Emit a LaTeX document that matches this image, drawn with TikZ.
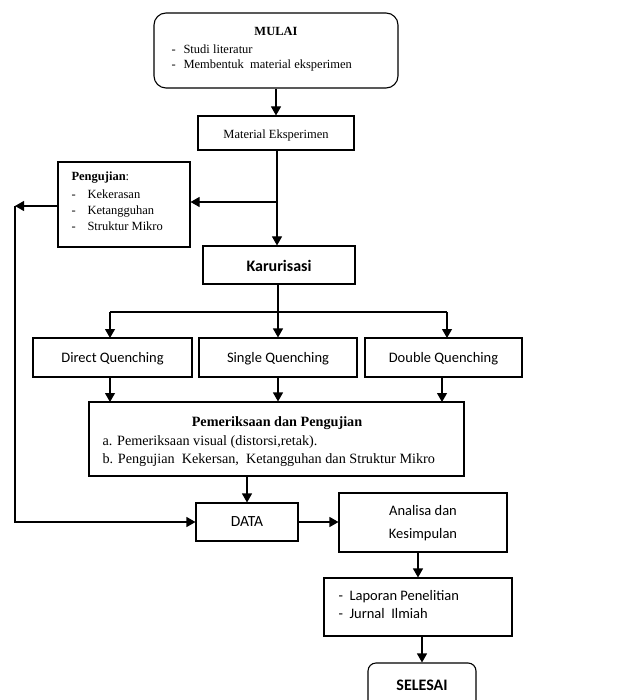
\documentclass[tikz,border=0pt]{standalone}
\usepackage{fontspec}
\setmainfont{Liberation Serif}
\newfontfamily\calib{Carlito}
\usetikzlibrary{arrows.meta}
\begin{document}
\begin{tikzpicture}[x=1pt,y=-1pt,line width=1.1pt,
  arr/.style={-{Triangle[length=9pt,width=10pt]}},
  txt/.style={inner sep=0pt,yshift=-2.5pt,text height=1.6ex,text depth=0.3ex,font=\fontsize{12.5}{14}\selectfont},
  sans/.style={inner sep=0pt,yshift=-2.5pt,text height=1.6ex,text depth=0.3ex,font=\calib\fontsize{14.5}{16}\selectfont},
  sansb/.style={inner sep=0pt,yshift=-2.5pt,text height=1.6ex,text depth=0.3ex,font=\calib\bfseries\fontsize{16}{18}\selectfont},
  pemtxt/.style={inner sep=0pt,yshift=-2.5pt,text height=1.6ex,text depth=0.3ex,font=\fontsize{14.2}{16}\selectfont}]
\useasboundingbox (0,0) rectangle (616,700);
\clip (0,0) rectangle (616,700);
% boxes
\draw[rounded corners=12pt] (154,13) rectangle (398,88);
\node[inner sep=0pt,minimum width=244pt,minimum height=75pt] (mulai) at (276,50.5) {};
\node[draw,inner sep=0pt,minimum width=156pt,minimum height=34pt] (mat) at (276,133) {};
\node[draw,inner sep=0pt,minimum width=132pt,minimum height=85pt] (peng) at (124,204.5) {};
\node[draw,inner sep=0pt,minimum width=152pt,minimum height=38pt] (kar) at (279,265) {};
\node[draw,inner sep=0pt,minimum width=159pt,minimum height=39pt] (direct) at (112.5,357.5) {};
\node[draw,inner sep=0pt,minimum width=158pt,minimum height=39pt] (single) at (278,357.5) {};
\node[draw,inner sep=0pt,minimum width=157pt,minimum height=39pt] (double) at (443.5,357.5) {};
\node[draw,inner sep=0pt,minimum width=375pt,minimum height=74pt] (pem) at (276.5,439) {};
\node[draw,inner sep=0pt,minimum width=102pt,minimum height=38pt] (data) at (247,522) {};
\node[draw,inner sep=0pt,minimum width=168pt,minimum height=59pt] (anal) at (423,522.5) {};
\node[draw,inner sep=0pt,minimum width=188pt,minimum height=58pt] (lap) at (418,607) {};
\node[draw,rounded corners=8pt,inner sep=0pt,minimum width=108pt,minimum height=57pt] (sel) at (422,691.5) {};
% texts
\node[txt,font=\bfseries\fontsize{12.5}{14}\selectfont] (t1) at (276,30) {MULAI};
\node[txt,anchor=west] (t2) at (171,48) {\makebox[12pt][l]{-}Studi literatur};
\node[txt,anchor=west] (t3) at (171,63) {\makebox[12pt][l]{-}Membentuk\ \ material eksperimen};
\node[txt] (t4) at (276,133) {Material Eksperimen};
\node[txt,anchor=west] (t5) at (71,175) {\textbf{Pengujian}:};
\node[txt,anchor=west] (t6) at (71,193) {\makebox[16pt][l]{-}Kekerasan};
\node[txt,anchor=west] (t7) at (71,209) {\makebox[16pt][l]{-}Ketangguhan};
\node[txt,anchor=west] (t8) at (71,225) {\makebox[16pt][l]{-}Struktur Mikro};
\node[sansb] (t9) at (279,266) {Karurisasi};
\node[sans] (t10) at (112.5,357.5) {Direct Quenching};
\node[sans] (t11) at (278,357.5) {Single Quenching};
\node[sans] (t12) at (443.5,357.5) {Double Quenching};
\node[pemtxt,font=\bfseries\fontsize{14.2}{16}\selectfont] (t13) at (277,421) {Pemeriksaan dan Pengujian};
\node[pemtxt,anchor=west] (t14) at (102,440) {a. Pemeriksaan visual (distorsi,retak).};
\node[pemtxt,anchor=west] (t15) at (102,458) {b. Pengujian\ \ Kekersan,\ \ Ketangguhan dan Struktur Mikro};
\node[sans,font=\calib\fontsize{15.5}{17}\selectfont] (t16) at (247,521) {DATA};
\node[sans] (t17) at (423,510) {Analisa dan};
\node[sans] (t18) at (423,533) {Kesimpulan};
\node[sans,anchor=west] (t19) at (338,595) {-\ \ Laporan Penelitian};
\node[sans,anchor=west] (t20) at (338,613) {-\ \ Jurnal\ \ Ilmiah};
\node[sansb] (t21) at (422,685) {SELESAI};
% coordinates
\coordinate (j1) at (277,202);
\coordinate (sp) at (278,312);
\coordinate (lt) at (15,206);
\coordinate (lb) at (15,522);
% connectors
\draw[arr] (mulai.south) -- (mat.north);
\draw[arr] (mat.south -| j1) -- (kar.north -| j1);
\draw[arr] (j1) -- (peng.east |- j1);
\draw[arr] (peng.west |- lt) -- (lt);
\draw[arr] (lt) -- (lb) -- (data.west |- lb);
\draw (kar.south -| sp) -- (sp);
\draw (110,312) -- (447,312);
\draw[arr] (110,312) -- (110,338);
\draw[arr] (sp) -- (single.north -| sp);
\draw[arr] (447,312) -- (447,338);
\draw[arr] (110,377) -- (110,402);
\draw[arr] (single.south -| sp) -- (pem.north -| sp);
\draw[arr] (442,377) -- (442,402);
\draw[arr] (pem.south -| data.north) -- (data.north);
\draw[arr] (data.east) -- (data.east -| anal.west);
\draw[arr] (anal.south -| lap.north) -- (lap.north);
\draw[arr] (lap.south -| sel.north) -- (sel.north);
\end{tikzpicture}
\end{document}
